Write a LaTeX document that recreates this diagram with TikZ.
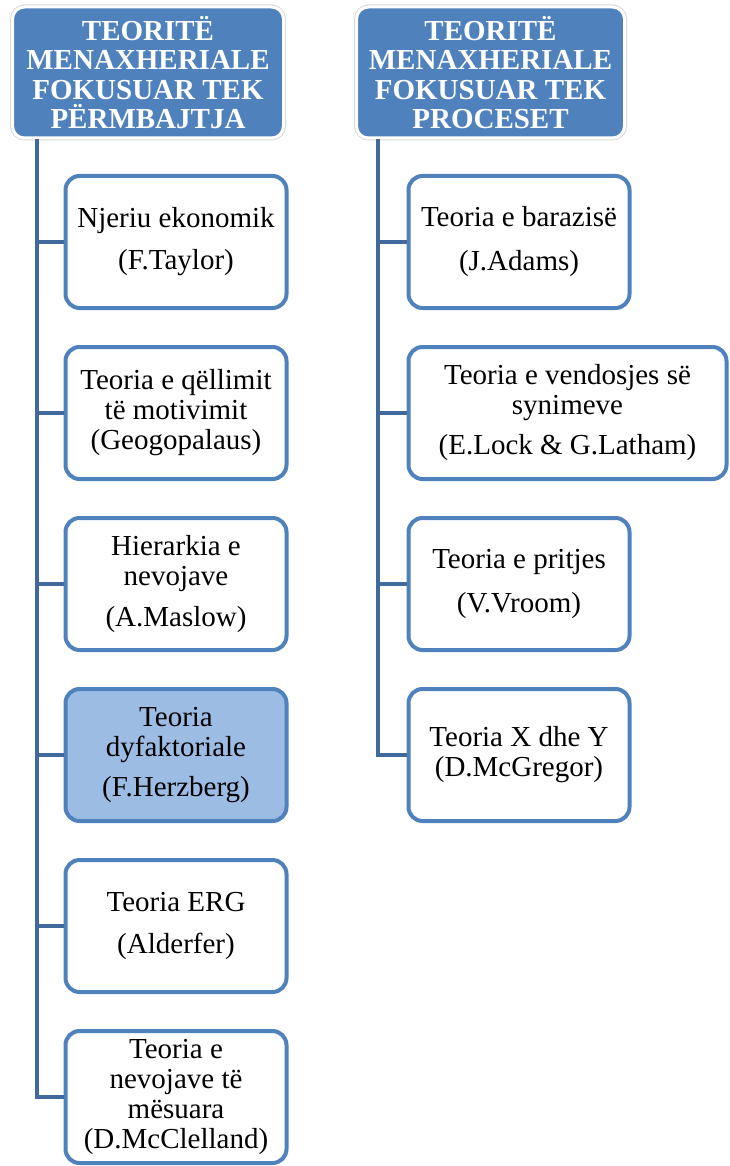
\documentclass[tikz,border=0pt]{standalone}
\usepackage{fontspec}
\setmainfont{Liberation Serif}
\usetikzlibrary{trees}

\definecolor{hdblue}{HTML}{4F81BD}
\definecolor{lnblue}{HTML}{41699C}
\definecolor{hlblue}{HTML}{9DBCE3}

\begin{document}
\begin{tikzpicture}[x=1pt,y=-1pt,
	head/.style={rectangle,rounded corners=12pt,fill=hdblue,draw=white,line width=3pt,preaction={draw=black!15,line width=5pt},text=white,font=\fontsize{29}{29.5}\selectfont\bfseries,align=center,minimum width=271pt,minimum height=131pt,inner sep=0pt,anchor=west},
	theory/.style={rectangle,rounded corners=14pt,fill=white,draw=hdblue,line width=4pt,font=\fontsize{29}{30}\selectfont,align=center,minimum width=221pt,minimum height=132pt,inner sep=2pt,anchor=west},
	picked/.style={theory,fill=hlblue},
	edge from parent/.style={draw=lnblue,line width=4pt}]
	\useasboundingbox (0,0) rectangle (730,1166);
	% content theories
	\node[head] (hdrL) at (11,72.5) {TEORITË\\MENAXHERIALE\\FOKUSUAR TEK\\PËRMBAJTJA}
		[grow via three points={one child at (-84.5,169.5) and two children at (-84.5,169.5) and (-84.5,340.5)},
		edge from parent path={([xshift=26pt]\tikzparentnode.south west) |- (\tikzchildnode.west)}]
		child { node[theory] (l1) {Njeriu ekonomik\\[12pt](F.Taylor)}}
		child { node[theory] (l2) {Teoria e qëllimit\\të motivimit\\(Geogopalaus)}}
		child { node[theory] (l3) {Hierarkia e\\nevojave\\[11pt](A.Maslow)}}
		child { node[picked] (l4) {Teoria\\dyfaktoriale\\[10pt](F.Herzberg)}}
		child { node[theory] (l5) {Teoria ERG\\[12pt](Alderfer)}}
		child { node[theory] (l6) {Teoria e\\nevojave të\\mësuara\\(D.McClelland)}}
	;
	% process theories
	\node[head,minimum width=268pt] (hdrR) at (355,72.5) {TEORITË\\MENAXHERIALE\\FOKUSUAR TEK\\PROCESET}
		[grow via three points={one child at (-84,169.5) and two children at (-84,169.5) and (-84,340.5)},
		edge from parent path={([xshift=23pt]\tikzparentnode.south west) |- (\tikzchildnode.west)}]
		child { node[theory] (r1) {Teoria e barazisë\\[14pt](J.Adams)}}
		child { node[theory,minimum width=318pt] (r2) {Teoria e vendosjes së\\synimeve\\[10pt](E.Lock \& G.Latham)}}
		child { node[theory] (r3) {Teoria e pritjes\\[14pt](V.Vroom)}}
		child { node[theory] (r4) {Teoria X dhe Y\\(D.McGregor)}}
	;
\end{tikzpicture}
\end{document}
